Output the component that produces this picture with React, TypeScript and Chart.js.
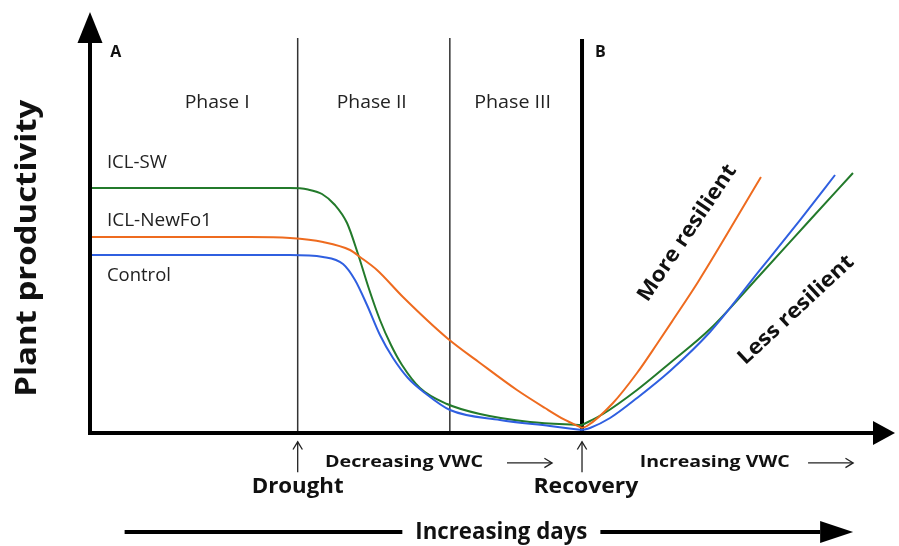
import React, { useEffect, useRef } from "react";
import { Chart, registerables } from "chart.js";

Chart.register(...registerables);

// ---- Data (x: days, 0-100; y: plant productivity, 0-100) ----
const swDroughtX = [0, 19.88, 24.84, 27.08, 28.82, 30.43, 31.93, 33.29, 34.66, 36.02, 37.39, 38.76, 40.99, 44.35, 48.45, 54.66, 61.12];
const swDroughtY = [58.19, 58.19, 58.19, 57.84, 56.77, 54.16, 49.88, 42.52, 34.2, 26.84, 20.9, 16.15, 10.69, 6.89, 4.51, 2.61, 1.9];
const swRecoveryX = [61.12, 63.73, 67.95, 72.05, 77.02, 83.23, 89.44, 94.78];
const swRecoveryY = [1.9, 4.51, 10.21, 16.63, 24.7, 37.53, 50.59, 61.76];

const nfDroughtX = [0, 19.88, 24.84, 28.94, 32.3, 33.54, 35.65, 38.88, 44.35, 48.45, 53.04, 56.52, 59.01, 61.12];
const nfDroughtY = [46.56, 46.56, 46.32, 45.37, 43.47, 41.81, 38.72, 32.3, 22.57, 16.63, 10.21, 5.94, 3.09, 1.19];
const nfRecoveryX = [61.12, 61.74, 64.97, 67.95, 70.43, 72.42, 75.53, 83.35];
const nfRecoveryY = [1.19, 1.66, 7.13, 14.25, 21.14, 26.84, 35.87, 60.81];

const ctDroughtX = [0, 19.88, 24.84, 28.94, 31.43, 32.92, 34.41, 36.02, 37.64, 39.5, 41.61, 44.72, 50.93, 57.14, 61.12];
const ctDroughtY = [42.28, 42.28, 42.28, 41.81, 40.14, 36.34, 30.4, 23.28, 17.81, 13.06, 9.5, 5.46, 3.09, 1.66, 0.71];
const ctRecoveryX = [61.12, 62.11, 64.6, 67.95, 72.05, 77.02, 83.23, 88.2, 92.55];
const ctRecoveryY = [0.71, 1.19, 3.56, 8.31, 14.73, 23.99, 38.72, 50.59, 61.28];

const seriesNames = ["ICL-SW", "ICL-NewFo1", "Control"];
const seriesColors = ["#237a2b", "#ee6b1f", "#2f5fe0"];
const seriesLabelY = [64.1, 50.4, 37.3];

const phaseBoundaries = [25.8, 44.7];
const recoveryDay = 61.12;
const phaseLabels = ["Phase I", "Phase II", "Phase III"];
const phaseLabelX = [15.8, 35.0, 52.5];

const zip = (xs: number[], ys: number[]) => xs.map((x, i) => ({ x, y: ys[i] }));

type TxtOpts = { size: number; weight?: string; width?: number; angle?: number; align?: CanvasTextAlign; color?: string };

function txt(ctx: CanvasRenderingContext2D, s: string, cx: number, cy: number, o: TxtOpts) {
  ctx.save();
  ctx.font = `${o.weight || "normal"} ${o.size}px "Open Sans", sans-serif`;
  const w = ctx.measureText(s).width;
  ctx.translate(cx, cy);
  ctx.rotate(o.angle || 0);
  const sx = o.width ? o.width / w : 1;
  ctx.scale(sx, 1);
  ctx.textAlign = o.align || "center";
  ctx.textBaseline = "middle";
  ctx.fillStyle = o.color || "#111";
  ctx.fillText(s, 0, 0);
  ctx.restore();
}

function seg(ctx: CanvasRenderingContext2D, x1: number, y1: number, x2: number, y2: number) {
  ctx.beginPath();
  ctx.moveTo(x1, y1);
  ctx.lineTo(x2, y2);
  ctx.stroke();
}

function thinArrow(ctx: CanvasRenderingContext2D, x1: number, y1: number, x2: number, y2: number) {
  const a = Math.atan2(y2 - y1, x2 - x1);
  const h = 9;
  ctx.save();
  ctx.strokeStyle = "#222";
  ctx.lineWidth = 1.3;
  seg(ctx, x1, y1, x2, y2);
  ctx.beginPath();
  ctx.moveTo(x2 - h * Math.cos(a - 0.55), y2 - h * Math.sin(a - 0.55));
  ctx.lineTo(x2, y2);
  ctx.lineTo(x2 - h * Math.cos(a + 0.55), y2 - h * Math.sin(a + 0.55));
  ctx.stroke();
  ctx.restore();
}

function fatArrow(ctx: CanvasRenderingContext2D, x1: number, y1: number, x2: number, y2: number, lw: number, headLen: number, headHalf: number) {
  const a = Math.atan2(y2 - y1, x2 - x1);
  const bx = x2 - headLen * Math.cos(a), by = y2 - headLen * Math.sin(a);
  ctx.save();
  ctx.strokeStyle = "#000";
  ctx.fillStyle = "#000";
  ctx.lineWidth = lw;
  seg(ctx, x1, y1, bx, by);
  ctx.beginPath();
  ctx.moveTo(x2, y2);
  ctx.lineTo(bx + headHalf * Math.sin(a), by - headHalf * Math.cos(a));
  ctx.lineTo(bx - headHalf * Math.sin(a), by + headHalf * Math.cos(a));
  ctx.closePath();
  ctx.fill();
  ctx.restore();
}

const overlay = {
  id: "overlay",
  beforeDatasetsDraw(chart: any) {
    const { ctx, scales } = chart;
    const px = (v: number) => scales.x.getPixelForValue(v);
    const py = (v: number) => scales.y.getPixelForValue(v);
    ctx.save();
    ctx.strokeStyle = "#333";
    ctx.lineWidth = 1.5;
    for (const b of phaseBoundaries) seg(ctx, px(b), py(93.8), px(b), py(0));
    ctx.strokeStyle = "#000";
    ctx.lineWidth = 4;
    seg(ctx, px(recoveryDay), py(93.6), px(recoveryDay), py(0));
    ctx.restore();

    phaseLabels.forEach((l, i) => txt(ctx, l, px(phaseLabelX[i]), py(78.4), { size: 18, width: [65, 70, 77][i], color: "#222" }));
    seriesNames.forEach((n, i) =>
      txt(ctx, n, px(2.1), py(seriesLabelY[i]), { size: 18, align: "left", width: [60, 105, 64][i], color: "#222" })
    );
    txt(ctx, "A", px(3.2), py(90.3), { size: 16, weight: "bold" });
    txt(ctx, "B", px(63.4), py(90.3), { size: 16, weight: "bold" });
  },
  afterDatasetsDraw(chart: any) {
    const { ctx, scales } = chart;
    const px = (v: number) => scales.x.getPixelForValue(v);
    const py = (v: number) => scales.y.getPixelForValue(v);
    // axes
    fatArrow(ctx, px(0), py(0) + 2, px(0), py(100), 4, 31, 12.5);
    fatArrow(ctx, px(0) - 2, py(0), px(100), py(0), 4, 22, 12);

    txt(ctx, "Plant productivity", px(-7.7), py(43.9), { size: 28, weight: "bold", width: 297, angle: -Math.PI / 2 });
    txt(ctx, "More resilient", px(74.2), py(47.5), { size: 21, weight: "bold", width: 160, angle: -56 * Math.PI / 180 });
    txt(ctx, "Less resilient", px(87.7), py(29.2), { size: 21, weight: "bold", width: 150, angle: -43 * Math.PI / 180 });

    thinArrow(ctx, px(25.8), py(-9.3), px(25.8), py(-2.1));
    thinArrow(ctx, px(recoveryDay), py(-9.3), px(recoveryDay), py(-2.1));
    thinArrow(ctx, px(51.8), py(-7.1), px(57.4), py(-7.1));
    thinArrow(ctx, px(89.2), py(-7.1), px(94.8), py(-7.1));

    txt(ctx, "Drought", px(25.8), py(-12.8), { size: 21, weight: "bold", width: 92 });
    txt(ctx, "Recovery", px(61.6), py(-12.8), { size: 21, weight: "bold", width: 105 });
    txt(ctx, "Decreasing VWC", px(39.0), py(-7.1), { size: 16, weight: "bold", width: 158 });
    txt(ctx, "Increasing VWC", px(77.6), py(-7.1), { size: 16, weight: "bold", width: 150 });

    ctx.save();
    ctx.strokeStyle = "#000";
    ctx.lineWidth = 4;
    seg(ctx, px(4.3), py(-23.5), px(38.8), py(-23.5));
    ctx.restore();
    fatArrow(ctx, px(63.4), py(-23.5), px(94.8), py(-23.5), 4, 33, 11);
    txt(ctx, "Increasing days", px(51.1), py(-23.5), { size: 24, weight: "bold", width: 172 });
  },
};

export default function App() {
  const ref = useRef<HTMLCanvasElement | null>(null);
  useEffect(() => {
    if (!ref.current) return;
    const lineDs = (label: string, xs: number[], ys: number[], color: string) => ({
      label,
      data: zip(xs, ys),
      borderColor: color,
      backgroundColor: color,
      borderWidth: 2,
      pointRadius: 0,
      fill: false,
      cubicInterpolationMode: "monotone" as const,
    });
    const chart = new Chart(ref.current, {
      type: "line",
      data: {
        datasets: [
          lineDs(seriesNames[2], ctDroughtX, ctDroughtY, seriesColors[2]),
          lineDs(seriesNames[1], nfDroughtX, nfDroughtY, seriesColors[1]),
          lineDs(seriesNames[0], swDroughtX, swDroughtY, seriesColors[0]),
          lineDs(seriesNames[2] + " recovery", ctRecoveryX, ctRecoveryY, seriesColors[2]),
          lineDs(seriesNames[1] + " recovery", nfRecoveryX, nfRecoveryY, seriesColors[1]),
          lineDs(seriesNames[0] + " recovery", swRecoveryX, swRecoveryY, seriesColors[0]),
        ],
      },
      options: {
        animation: false,
        responsive: false,
        devicePixelRatio: 1,
        layout: { padding: { left: 90, right: 4, top: 12, bottom: 113 } },
        plugins: { legend: { display: false }, title: { display: false }, tooltip: { enabled: false } },
        scales: {
          x: { type: "linear", min: 0, max: 100, display: false },
          y: { type: "linear", min: 0, max: 100, display: false },
        },
      },
      plugins: [overlay],
    });
    return () => chart.destroy();
  }, []);
  return (
    <div style={{ position: "fixed", left: 0, top: 0, width: 899, height: 546, background: "#fff" }}>
      <canvas ref={ref} width={899} height={546} />
    </div>
  );
}
